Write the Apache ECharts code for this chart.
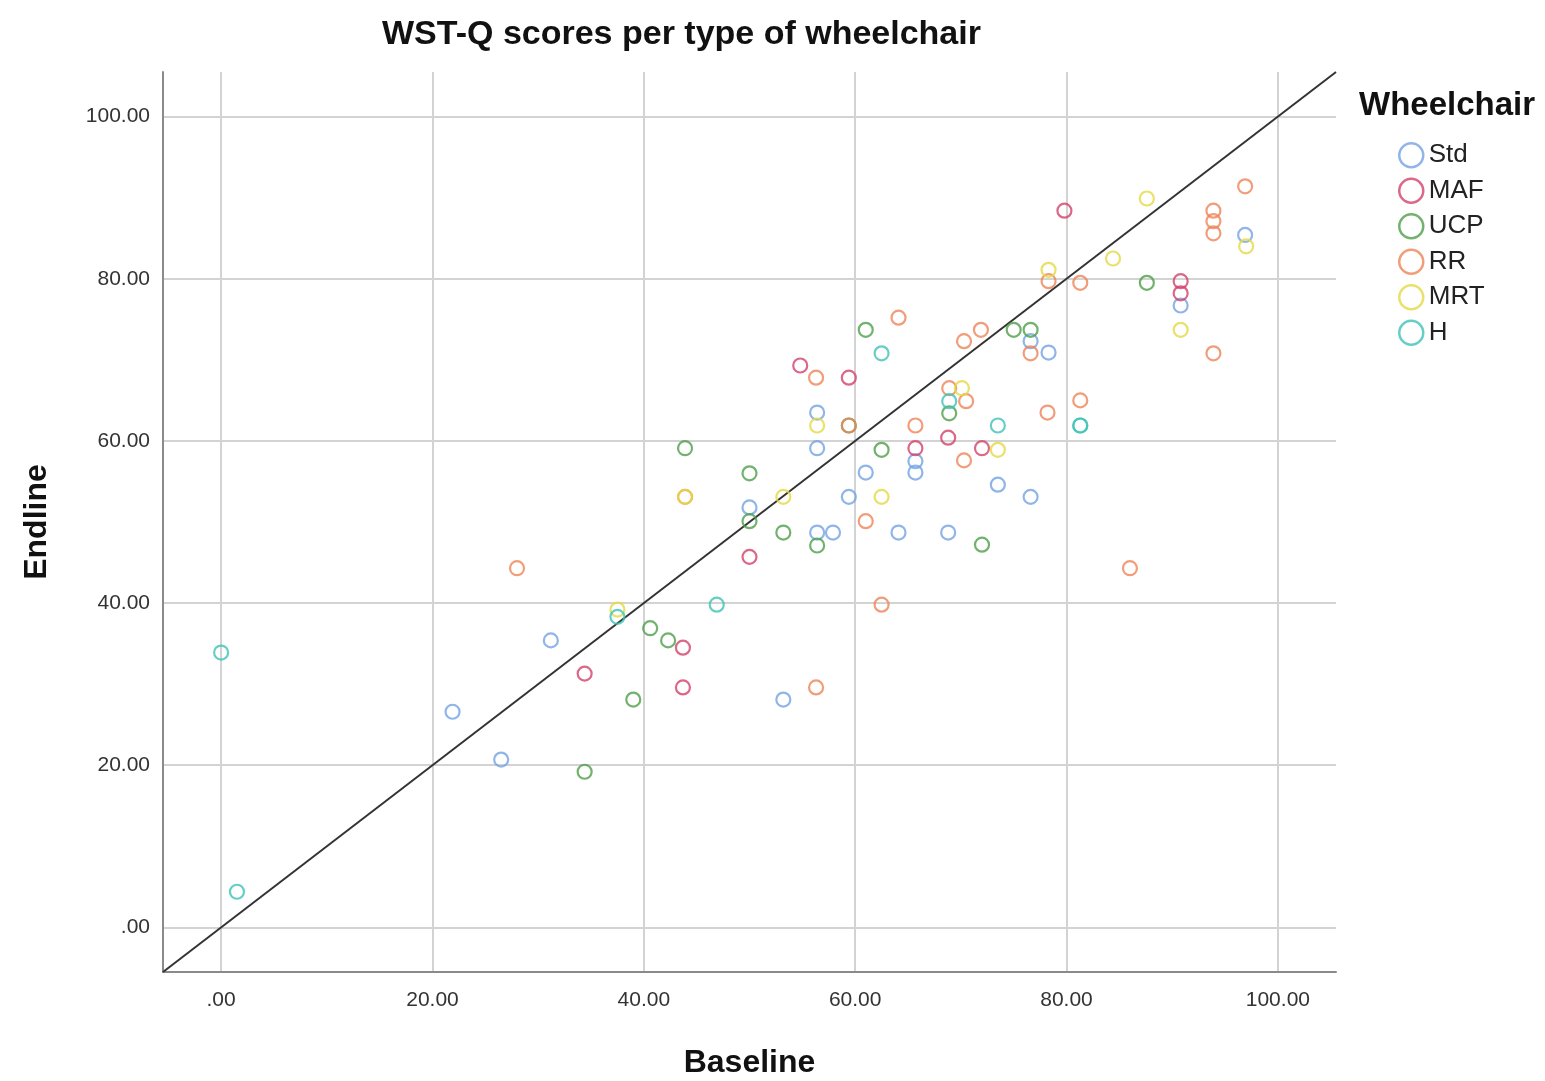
<!DOCTYPE html>
<html>
<head>
<meta charset="utf-8">
<script src="https://cdn.jsdelivr.net/npm/echarts@6/dist/echarts.min.js"></script>
<style>
html,body{margin:0;padding:0;background:#fff;}
#main{width:1545px;height:1081px;}
</style>
</head>
<body>
<div id="main"></div>
<script>
// ---- data: [Baseline, Endline] per wheelchair type ----
var groupNames = ['Std', 'MAF', 'UCP', 'RR', 'MRT', 'H'];
var tickValues = [0, 20, 40, 60, 80, 100];

var stdPoints = [
  [96.9, 85.4], [90.8, 76.7], [76.6, 72.3], [78.3, 70.9], [56.4, 63.5], [56.4, 59.1],
  [65.7, 57.5], [65.7, 56.1], [61.0, 56.1], [59.4, 53.1], [73.5, 54.6], [76.6, 53.1],
  [50.0, 51.8], [56.4, 48.7], [57.9, 48.7], [64.1, 48.7], [68.8, 48.7], [31.2, 35.4],
  [21.9, 26.6], [26.5, 20.7], [53.2, 28.1]
];
var mafPoints = [
  [79.8, 88.4], [90.8, 79.7], [90.8, 78.2], [54.8, 69.3], [59.4, 67.8], [65.7, 59.1],
  [68.8, 60.4], [72.0, 59.1], [50.0, 45.7], [34.4, 31.3], [43.7, 34.5], [43.7, 29.6]
];
var ucpPoints = [
  [87.6, 79.5], [61.0, 73.7], [75.0, 73.7], [76.6, 73.7], [59.4, 61.9], [68.9, 63.4],
  [62.5, 58.9], [43.9, 59.1], [50.0, 56.0], [50.0, 50.1], [53.2, 48.7], [56.4, 47.1],
  [72.0, 47.2], [40.6, 36.9], [42.3, 35.4], [39.0, 28.1], [34.4, 19.2]
];
var rrPoints = [
  [96.9, 91.4], [93.9, 88.4], [93.9, 87.1], [93.9, 85.6], [81.3, 79.5], [78.3, 79.7],
  [93.9, 70.8], [64.1, 75.2], [70.3, 72.3], [71.9, 73.7], [76.6, 70.8], [56.3, 67.8],
  [68.9, 66.5], [70.5, 64.9], [65.7, 61.9], [78.2, 63.5], [81.3, 65.0], [70.3, 57.6],
  [61.0, 50.1], [43.9, 53.1], [62.5, 39.8], [28.0, 44.3], [56.3, 29.6], [86.0, 44.3],
  [59.4, 61.9]
];
var mrtPoints = [
  [87.6, 89.9], [84.4, 82.5], [78.3, 81.1], [97.0, 84.0], [90.8, 73.7], [70.1, 66.5],
  [56.4, 61.9], [73.5, 58.9], [53.2, 53.1], [62.5, 53.1], [43.9, 53.1], [37.5, 39.2]
];
var hPoints = [
  [62.5, 70.8], [73.5, 61.9], [81.3, 61.9], [81.3, 61.9], [68.9, 64.9], [46.9, 39.8],
  [37.5, 38.3], [0.0, 33.9], [1.5, 4.4]
];
var allGroups = [stdPoints, mafPoints, ucpPoints, rrPoints, mrtPoints, hPoints];
var groupColors = ['#74a3e3', '#d2416b', '#4f9f4a', '#ee8458', '#e3d944', '#3ec3b8'];
var axisMin = -5.5, axisMax = 105.5;

function fmt(v) { return v === 0 ? '.00' : v.toFixed(2); }

var series = [];
// grid lines + diagonal reference line
series.push({
  type: 'line',
  data: [[axisMin, axisMin], [axisMax, axisMax]],
  showSymbol: false,
  silent: true,
  z: 1,
  lineStyle: { color: '#333', width: 2 },
  markLine: {
    silent: true,
    symbol: ['none', 'none'],
    label: { show: false },
    lineStyle: { color: '#d3d3d3', width: 2, type: 'solid' },
    z: 0,
    data: tickValues.map(function (v) { return { xAxis: v }; })
      .concat(tickValues.map(function (v) { return { yAxis: v }; }))
  }
});
allGroups.forEach(function (pts, i) {
  series.push({
    name: groupNames[i],
    type: 'scatter',
    data: pts,
    symbol: 'circle',
    symbolSize: 14,
    z: 3,
    itemStyle: { color: 'rgba(255,255,255,0)', borderColor: groupColors[i], borderWidth: 2.2 }
  });
});

var chart = echarts.init(document.getElementById('main'), null, { renderer: 'canvas' });
chart.setOption({
  backgroundColor: '#fff',
  animation: false,
  title: [
    { text: 'WST-Q scores per type of wheelchair', left: 377, top: 13,
      textStyle: { fontFamily: 'Liberation Sans', fontWeight: 'bold', fontSize: 34, color: '#111' } },
    { text: 'Wheelchair', left: 1354, top: 84,
      textStyle: { fontFamily: 'Liberation Sans', fontWeight: 'bold', fontSize: 33, color: '#111' } }
  ],
  legend: {
    data: groupNames,
    orient: 'vertical',
    left: 1398,
    top: 142,
    padding: 0,
    itemWidth: 25,
    itemHeight: 24,
    itemGap: 9,
    icon: 'circle',
    itemStyle: { color: 'rgba(255,255,255,0)', borderWidth: 2.5 },
    textStyle: { fontFamily: 'Liberation Sans', fontSize: 26, color: '#222', padding: [0, 0, 0, 0] }
  },
  grid: { left: 163, right: 209, top: 72, bottom: 109, containLabel: false, outerBoundsMode: 'none' },
  xAxis: {
    type: 'value', min: axisMin, max: axisMax,
    name: 'Baseline', nameLocation: 'middle', nameGap: 75,
    nameTextStyle: { fontFamily: 'Liberation Sans', fontWeight: 'bold', fontSize: 32, color: '#111' },
    axisLine: { show: true, onZero: false, lineStyle: { color: '#8a8a8a', width: 2 } },
    axisTick: { show: false },
    splitLine: { show: false },
    axisLabel: { customValues: tickValues, formatter: fmt, margin: 18,
      fontFamily: 'Liberation Sans', fontSize: 21, color: '#333' }
  },
  yAxis: {
    type: 'value', min: axisMin, max: axisMax,
    name: 'Endline', nameLocation: 'middle', nameGap: 110,
    nameTextStyle: { fontFamily: 'Liberation Sans', fontWeight: 'bold', fontSize: 32, color: '#111' },
    axisLine: { show: true, onZero: false, lineStyle: { color: '#8a8a8a', width: 2 } },
    axisTick: { show: false },
    splitLine: { show: false },
    axisLabel: { customValues: tickValues, formatter: fmt, margin: 13,
      fontFamily: 'Liberation Sans', fontSize: 21, color: '#333' }
  },
  series: series
});
</script>
</body>
</html>
